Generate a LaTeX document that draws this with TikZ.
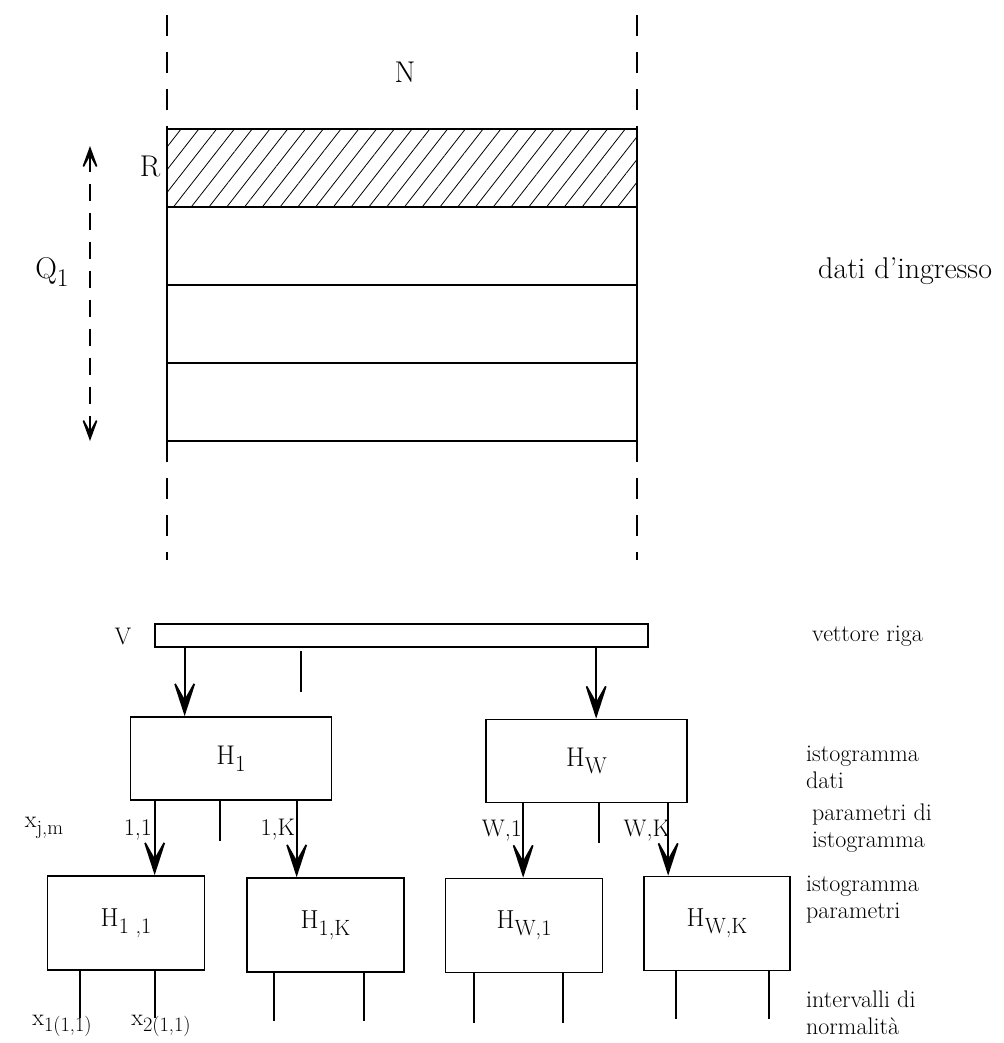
\documentclass[tikz,border=0pt]{standalone}
\usetikzlibrary{arrows.meta,positioning,patterns.meta}
\newcommand{\idx}[1]{\raisebox{-0.6ex}{\scalebox{0.85}{#1}}}
\tikzset{
  band/.style={
    draw,
    line width=1.6pt,
    minimum width=470pt,
    minimum height=78pt,
    inner sep=0pt,
    outer sep=0pt
  },
  hbox/.style={
    draw,
    line width=1.7pt,
    minimum width=201pt,
    minimum height=83pt,
    inner sep=0pt,
    font=\fontsize{27}{30}\selectfont
  },
  pbox/.style={
    draw,
    line width=1.7pt,
    minimum width=157pt,
    minimum height=94pt,
    inner sep=0pt,
    font=\fontsize{26}{30}\selectfont
  },
  biglbl/.style={font=\fontsize{30}{34}\selectfont, inner sep=0pt},
  lbl/.style={font=\fontsize{24}{27}\selectfont, inner sep=0pt},
  side/.style={lbl, align=left, anchor=west},
  flow/.style={-{Stealth[length=40pt,width=26pt,inset=23pt]}, line width=1.7pt},
  guide/.style={dash pattern=on 21pt off 16pt, line width=1.6pt},
  tick/.style={line width=1.7pt}
}

\begin{document}
\begin{tikzpicture}[x=1pt,y=-1pt]
  \useasboundingbox (0,0) rectangle (1003,1043);

  % matrice dei dati
  \node[band, pattern={Lines[angle=52,distance=14pt,line width=0.8pt]}] (band1) at (402,168) {};
  \node[band, below=0pt of band1] (band2) {};
  \node[band, below=0pt of band2] (band3) {};
  \node[band, below=0pt of band3] (band4) {};

  \coordinate (gtl) at (167,15);
  \coordinate (gtr) at (637,15);
  \coordinate (gbl) at (167,560);
  \coordinate (gbr) at (637,560);
  \draw[guide] (gtl) -- (band1.north west);
  \draw[guide] (gtr) -- (band1.north east);
  \draw[guide] (band4.south west) -- (gbl);
  \draw[guide] (band4.south east) -- (gbr);

  \coordinate (qtop) at (90,146);
  \coordinate (qbot) at (90,441);
  \draw[line width=1.6pt, dash pattern=on 17pt off 12pt,
        {Stealth[length=30pt,width=22pt,inset=20pt]}-{Stealth[length=30pt,width=22pt,inset=20pt]}] (qtop) -- (qbot);

  \node[biglbl] (nlab) at (405,72) {N};
  \node[biglbl] (rlab) at (150,166) {R};
  \node[biglbl] (qlab) at (52,272) {Q\idx{1}};
  \node[biglbl, anchor=west] (ingresso) at (818,271) {dati d'ingresso};

  % istogrammi
  \node[draw, line width=1.7pt, minimum width=493pt, minimum height=23pt, inner sep=0pt] (vec) at (401.5,635.5) {};
  \node[lbl] (vlab) at (123,636) {V};

  \node[hbox] (h1) at (231,758.5) {H\idx{1}};
  \node[hbox] (hw) at (586.5,761) {H\idx{W}};

  \node[pbox] (h11) at (126,923) {H\idx{1 ,1}};
  \node[pbox] (h1k) at (325.5,925) {H\idx{1,K}};
  \node[pbox] (hw1) at (524,925.5) {H\idx{W,1}};
  \node[pbox, minimum width=146pt] (hwk) at (717,923.5) {H\idx{W,K}};

  \coordinate (a1) at ([xshift=55pt]h1.north west);
  \coordinate (aw) at ([xshift=111pt]hw.north west);
  \draw[flow] (vec.south -| a1) -- (a1);
  \draw[flow] (vec.south -| aw) -- (aw);
  \draw[tick] ([xshift=147pt,yshift=-3pt]vec.south west) -- ++(0,41);

  \coordinate (b11) at ([xshift=25pt]h1.south west);
  \coordinate (b1k) at ([xshift=167pt]h1.south west);
  \coordinate (bw1) at ([xshift=38pt]hw.south west);
  \coordinate (bwk) at ([xshift=183pt]hw.south west);
  \draw[flow] (b11) -- (h11.north -| b11);
  \draw[flow] (b1k) -- (h1k.north -| b1k);
  \draw[flow] (bw1) -- (hw1.north -| bw1);
  \draw[flow] (bwk) -- (hwk.north -| bwk);
  \draw[tick] ([xshift=90pt]h1.south west) -- ++(0,40);
  \draw[tick] ([xshift=114pt]hw.south west) -- ++(0,40);

  \node[lbl, anchor=east] (l11) at (152,830) {1,1};
  \node[lbl, anchor=east] (l1k) at (295,830) {1,K};
  \node[lbl, anchor=east] (lw1) at (522,831) {W,1};
  \node[lbl, anchor=east] (lwk) at (670,831) {W,K};
  \node[lbl] (xjm) at (44,828) {x\idx{j,m}};

  \draw[tick] ([xshift=33pt]h11.south west) -- ++(0,47);
  \draw[tick] ([xshift=108pt]h11.south west) -- ++(0,47);
  \draw[tick] ([xshift=28pt]h1k.south west) -- ++(0,48);
  \draw[tick] ([xshift=118pt]h1k.south west) -- ++(0,48);
  \draw[tick] ([xshift=29pt]hw1.south west) -- ++(0,50);
  \draw[tick] ([xshift=118pt]hw1.south west) -- ++(0,50);
  \draw[tick] ([xshift=33pt]hwk.south west) -- ++(0,48);
  \draw[tick] ([xshift=126pt]hwk.south west) -- ++(0,48);

  \node[lbl] (x1) at (62,1026) {x\idx{1(1,1)}};
  \node[lbl] (x2) at (161,1026) {x\idx{2(1,1)}};

  % didascalie a destra
  \node[side] (riga) at (812,636) {vettore riga};
  \node[side] (idati) at (806,767) {istogramma\\dati};
  \node[side] (pist) at (812,828) {parametri di\\istogramma};
  \node[side] (ipar) at (806,900) {istogramma\\parametri};
  \node[side] (norm) at (806,1013) {intervalli di\\normalità};
\end{tikzpicture}
\end{document}
